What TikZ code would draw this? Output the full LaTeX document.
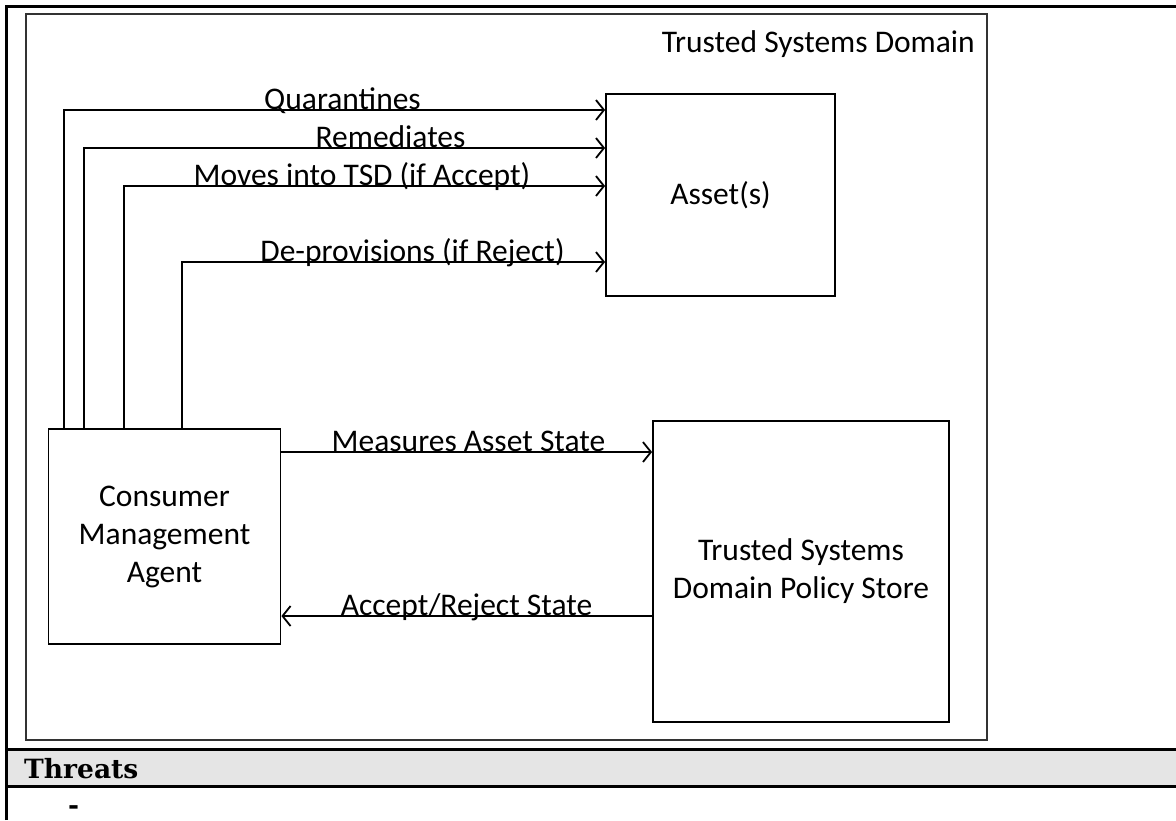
\documentclass[tikz,border=0pt]{standalone}
\usepackage{fontspec}
\setmainfont{Carlito}
\newfontfamily\threatfont{DejaVu Serif}
\usetikzlibrary{arrows.meta}
\tikzset{
	blk/.style={draw,line width=1.8pt,inner sep=0pt,align=center},
	flow/.style={line width=1.8pt,-{Straight Barb[length=8pt,width=20pt,line width=1.8pt]}},
	lbl/.style={anchor=base,inner sep=0pt},
}
\begin{document}
\begin{tikzpicture}[line cap=butt,line join=miter,x=1pt,y=-1pt,font=\fontsize{31.5}{38}\selectfont]
			\useasboundingbox (0,0) rectangle (1176,820);
			\fill[white] (0,0) rectangle (1176,820);
			\fill[black!10] (6,749.5) rectangle (1176,786.5);
			\draw [line width=3pt] (6,820)-- (6,6)-- (1176,6);
			\draw [line width=3pt] (6,749.5)-- (1176,749.5);
			\draw [line width=3pt] (6,786.5)-- (1176,786.5);
			\draw [line width=1.8pt,color=black!80] (26,14) rectangle (987,740);
			\node[lbl,anchor=base east] (tsd) at (975,52) {Trusted Systems Domain};
			\node[blk,minimum width=229pt,minimum height=202pt] (asset) at (720.5,195) {Asset(s)};
			\node[blk,minimum width=232pt,minimum height=215pt] (cma) at (164.5,536.5) {Consumer\\Management\\Agent};
			\node[blk,minimum width=296pt,minimum height=301pt] (store) at (801,571.5) {Trusted Systems\\Domain Policy Store};
			\draw [flow] (cma.north -| 64,0) |- (asset.west |- 0,110);
			\draw [flow] (cma.north -| 84,0) |- (asset.west |- 0,148);
			\draw [flow] (cma.north -| 124,0) |- (asset.west |- 0,186);
			\draw [flow] (cma.north -| 182,0) |- (asset.west |- 0,262);
			\draw [flow] (cma.east |- 0,452) -- (store.west |- 0,452);
			\draw [flow] (store.west |- 0,616) -- (cma.east |- 0,616);
			\node[lbl] (quar) at (342.5,109) {Quarantines};
			\node[lbl] (remed) at (390.5,147) {Remediates};
			\node[lbl] (moves) at (362,185) {Moves into TSD (if Accept)};
			\node[lbl] (deprov) at (412.5,261) {De-provisions (if Reject)};
			\node[lbl] (measure) at (468.5,451) {Measures Asset State};
			\node[lbl] (verdict) at (466.5,615) {Accept/Reject State};
			\node[lbl,anchor=base west,font=\threatfont\bfseries\fontsize{26.5}{30}\selectfont] (threats) at (24,778) {Threats};
			\node[lbl,font=\threatfont\bfseries\fontsize{26.5}{30}\selectfont] (none) at (73.5,814) {-};
		\end{tikzpicture}
\end{document}
